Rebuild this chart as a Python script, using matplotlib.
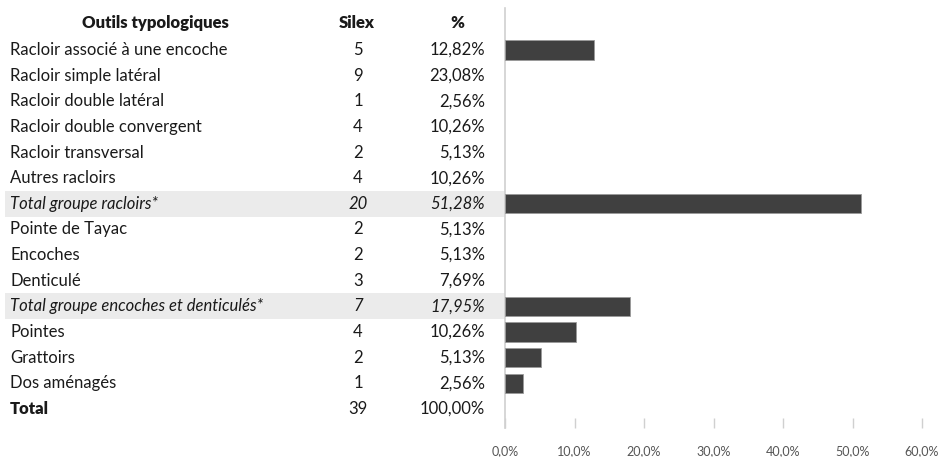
import matplotlib.pyplot as plt
import matplotlib.transforms as mtransforms
from matplotlib.patches import Rectangle

# données du tableau
outils = ["Racloir associé à une encoche", "Racloir simple latéral", "Racloir double latéral",
          "Racloir double convergent", "Racloir transversal", "Autres racloirs",
          "Total groupe racloirs*", "Pointe de Tayac", "Encoches", "Denticulé",
          "Total groupe encoches et denticulés*", "Pointes", "Grattoirs", "Dos aménagés", "Total"]
silex = [5, 9, 1, 4, 2, 4, 20, 2, 2, 3, 7, 4, 2, 1, 39]
pourcent = ["12,82%", "23,08%", "2,56%", "10,26%", "5,13%", "10,26%", "51,28%", "5,13%",
            "5,13%", "7,69%", "17,95%", "10,26%", "5,13%", "2,56%", "100,00%"]
# barres (seulement certaines lignes ont une barre)
barres = [12.82, None, None, None, None, None, 51.28, None, None, None, 17.95, 10.26, 5.13, 2.56, None]
xticks = [0, 10, 20, 30, 40, 50, 60]

plt.rcParams['font.family'] = ['Lato', 'DejaVu Sans']
W, H = 939, 457
fig = plt.figure(figsize=(W / 100, H / 100), dpi=100)

# axe des barres
x0, x1 = 505, 922
y_top, y_bot = 8, 428
ax = fig.add_axes([x0 / W, 1 - y_bot / H, (x1 - x0) / W, (y_bot - y_top) / H])
row0, pas = 50, 25.63
ax.set_ylim((y_bot - row0) / pas, (y_top - row0) / pas)
ax.set_xlim(0, 60)

for i, v in enumerate(barres):
    if v is not None:
        ax.barh(i, v, height=0.75, color='#404040', edgecolor='#9a9a9a', linewidth=0.6, zorder=3)

for s in ['top', 'right', 'bottom']:
    ax.spines[s].set_visible(False)
ax.spines['left'].set_color('#d0d0d0')
ax.spines['left'].set_linewidth(1.2)
ax.set_yticks([])
ax.set_xticks(xticks)
ax.set_xticklabels([f"{t:.1f}%".replace('.', ',') for t in xticks])
ax.tick_params(axis='x', direction='in', length=7, width=1, color='#d0d0d0',
               labelsize=9, labelcolor='#555555', pad=12)

# tableau à gauche (x en pixels de la figure, y en lignes)
trans = mtransforms.blended_transform_factory(fig.transFigure, ax.transData)
def fx(px):
    return px / W

couleur = '#1a1a1a'
fs = 12
ax.text(fx(155), -1.05, "Outils typologiques", transform=trans, ha='center', va='center',
        fontsize=fs, fontweight='heavy', color=couleur, clip_on=False)
ax.text(fx(357), -1.05, "Silex", transform=trans, ha='center', va='center',
        fontsize=fs, fontweight='heavy', color=couleur, clip_on=False)
ax.text(fx(457), -1.05, "%", transform=trans, ha='center', va='center',
        fontsize=fs, fontweight='heavy', color=couleur, clip_on=False)

for i, nom in enumerate(outils):
    style, poids = 'normal', 'normal'
    if nom.startswith("Total groupe"):
        style = 'italic'
        ax.add_patch(Rectangle((fx(5), i - 0.5), fx(505) - fx(5), 1.0, transform=trans,
                               facecolor='#ebebeb', edgecolor='none', zorder=0.5, clip_on=False))
    elif nom == "Total":
        poids = 'heavy'
    kw = dict(transform=trans, va='center', fontsize=fs, color=couleur,
              fontstyle=style, clip_on=False, zorder=4)
    ax.text(fx(10), i, nom, ha='left', fontweight=poids, **kw)
    ax.text(fx(358), i, str(silex[i]), ha='center', **kw)
    ax.text(fx(485), i, pourcent[i], ha='right', **kw)

fig.savefig("out.png", dpi=100, facecolor='white')
